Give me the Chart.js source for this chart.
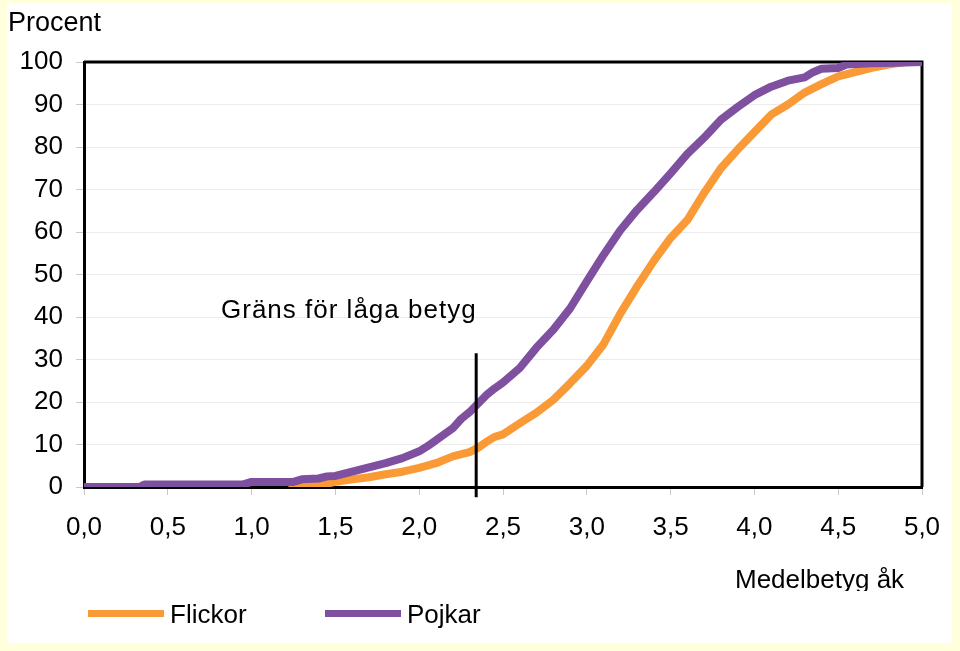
<html>
<head>
    <meta charset="utf-8">
    <title>Medelbetyg</title>
    <style>
        html, body { margin: 0; padding: 0; background: #ffffdc; }
        #wrap { position: relative; width: 960px; height: 651px; }
    </style>
</head>
<body>
    <div id="wrap"><canvas id="myChart" width="960" height="651"></canvas></div>
</body>
<script src="https://cdn.jsdelivr.net/npm/chart.js"></script>
<script>
    // kumulativ andel (procent) per medelbetyg
    const flickorX = [1.22, 1.3, 1.45, 1.5, 1.6, 1.7, 1.8, 1.9, 2.0, 2.1, 2.2, 2.3, 2.35, 2.4, 2.45, 2.5, 2.6, 2.7, 2.8, 2.9, 3.0, 3.1, 3.2, 3.3, 3.4, 3.5, 3.6, 3.7, 3.8, 3.9, 4.0, 4.1, 4.2, 4.3, 4.4, 4.5, 4.6, 4.7, 4.8, 4.9, 5.0]
    const flickorY = [0, 0.4, 0.8, 1.2, 1.8, 2.3, 3.0, 3.6, 4.5, 5.6, 7.2, 8.2, 9.2, 10.6, 11.8, 12.4, 15, 17.5, 20.5, 24.4, 28.5, 33.6, 40.8, 47.2, 53.2, 58.6, 62.8, 69.2, 75, 79.4, 83.5, 87.6, 90, 92.8, 94.8, 96.6, 97.6, 98.6, 99.4, 100, 100]

    const pojkarX = [0, 0.33, 0.36, 0.95, 1.0, 1.25, 1.3, 1.4, 1.45, 1.5, 1.6, 1.7, 1.8, 1.9, 2.0, 2.05, 2.1, 2.2, 2.25, 2.3, 2.35, 2.4, 2.45, 2.5, 2.6, 2.7, 2.8, 2.9, 3.0, 3.1, 3.2, 3.3, 3.4, 3.5, 3.6, 3.7, 3.8, 3.9, 4.0, 4.1, 4.2, 4.3, 4.35, 4.4, 4.5, 4.55, 4.7, 4.85, 5.0]
    const pojkarY = [0, 0, 0.6, 0.6, 1.2, 1.2, 1.8, 2.0, 2.5, 2.6, 3.6, 4.6, 5.6, 6.8, 8.4, 9.6, 11, 13.8, 16, 17.6, 19.6, 21.6, 23.2, 24.6, 28, 32.8, 37, 42, 48.4, 54.6, 60.4, 65.2, 69.4, 73.8, 78.4, 82.2, 86.4, 89.4, 92.2, 94.2, 95.6, 96.4, 97.6, 98.4, 98.6, 99.4, 99.7, 99.8, 100]

    const xTicks = [0, 0.5, 1, 1.5, 2, 2.5, 3, 3.5, 4, 4.5, 5]
    const yTicks = [0, 10, 20, 30, 40, 50, 60, 70, 80, 90, 100]

    // gränslinje för låga betyg
    const gransX = 2.34
    const gransY = [31.5, -2.4]
    const gransText = 'Gräns för låga betyg'
    const gransTextAt = [1.58, 41.5]

    const FONT = "'Liberation Sans', Arial, sans-serif"
    const ORANGE = '#f99a36'
    const PURPLE = '#7f50a0'

    const pts = (xs, ys) => xs.map((x, i) => ({ x: x, y: ys[i] }))

    const extras = {
        id: 'extras',
        beforeDraw(chart) {
            const c = chart.ctx
            c.save()
            c.fillStyle = '#ffffdc'
            c.fillRect(0, 0, chart.width, chart.height)
            c.fillStyle = '#ffffff'
            c.fillRect(7, 3, 945, 640)
            c.restore()
        },
        beforeDatasetsDraw(chart) {
            const a = chart.chartArea
            const c = chart.ctx
            c.save()
            c.strokeStyle = '#000'
            c.lineWidth = 3
            c.beginPath()
            c.moveTo(a.left, a.top)
            c.lineTo(a.right, a.top)
            c.lineTo(a.right, a.bottom)
            c.stroke()
            c.restore()
        },
        afterDraw(chart) {
            const c = chart.ctx
            const sx = chart.scales.x, sy = chart.scales.y
            c.save()
            c.fillStyle = '#000'
            c.font = '27px ' + FONT
            c.textBaseline = 'middle'

            c.textAlign = 'left'
            c.fillText('Procent', 8, 24)

            c.save()
            c.font = '26px ' + FONT
            c.letterSpacing = '1px'
            c.textAlign = 'center'
            c.fillText(gransText, sx.getPixelForValue(gransTextAt[0]), sy.getPixelForValue(gransTextAt[1]))
            c.restore()

            // axeltiteln är avklippt nedtill i originalet
            c.save()
            c.beginPath()
            c.rect(700, 560, 250, 31)
            c.clip()
            c.font = '26px ' + FONT
            c.textAlign = 'left'
            c.fillText('Medelbetyg åk', 735, 581)
            c.restore()

            // förklaring
            c.font = '26px ' + FONT
            const items = [chart.data.datasets[2], chart.data.datasets[1]]
            let x = 88
            items.forEach(ds => {
                c.fillStyle = ds.borderColor
                c.fillRect(x, 610, 76, 7)
                c.fillStyle = '#000'
                c.textAlign = 'left'
                c.fillText(ds.label, x + 82, 616)
                x += 237
            })
            c.restore()
        }
    }

    const ctx = document.getElementById('myChart').getContext('2d')
    new Chart(ctx, {
        type: 'line',
        data: {
            datasets: [{
                label: '',
                data: pts([gransX, gransX], gransY),
                borderColor: '#000',
                borderWidth: 3,
                pointRadius: 0,
                clip: false
            }, {
                label: 'Pojkar',
                data: pts(pojkarX, pojkarY),
                borderColor: PURPLE,
                backgroundColor: PURPLE,
                borderWidth: 8,
                pointRadius: 0,
                borderJoinStyle: 'round'
            }, {
                label: 'Flickor',
                data: pts(flickorX, flickorY),
                borderColor: ORANGE,
                backgroundColor: ORANGE,
                borderWidth: 8,
                pointRadius: 0,
                borderJoinStyle: 'round'
            }]
        },
        options: {
            responsive: false,
            animation: false,
            layout: { padding: { left: 0, top: 62, right: 38, bottom: 104 } },
            plugins: { legend: { display: false }, tooltip: { enabled: false } },
            scales: {
                x: {
                    type: 'linear',
                    min: 0,
                    max: 5,
                    afterBuildTicks: s => { s.ticks = xTicks.map(v => ({ value: v })) },
                    afterFit: s => { s.height = 60 },
                    border: { color: '#000', width: 3 },
                    grid: { drawOnChartArea: false, tickLength: 8, tickColor: '#c8c8c8' },
                    ticks: {
                        padding: 17,
                        color: '#000',
                        font: { size: 26, family: FONT },
                        maxRotation: 0,
                        callback: v => v.toFixed(1).replace('.', ',')
                    }
                },
                y: {
                    min: 0,
                    max: 100,
                    afterBuildTicks: s => { s.ticks = yTicks.map(v => ({ value: v })) },
                    afterFit: s => { s.width = 84 },
                    border: { color: '#000', width: 3 },
                    grid: { color: '#ececec', tickLength: 8, tickColor: '#c8c8c8' },
                    ticks: {
                        padding: 13,
                        color: '#000',
                        font: { size: 26, family: FONT }
                    }
                }
            }
        },
        plugins: [extras]
    })
</script>
</html>
